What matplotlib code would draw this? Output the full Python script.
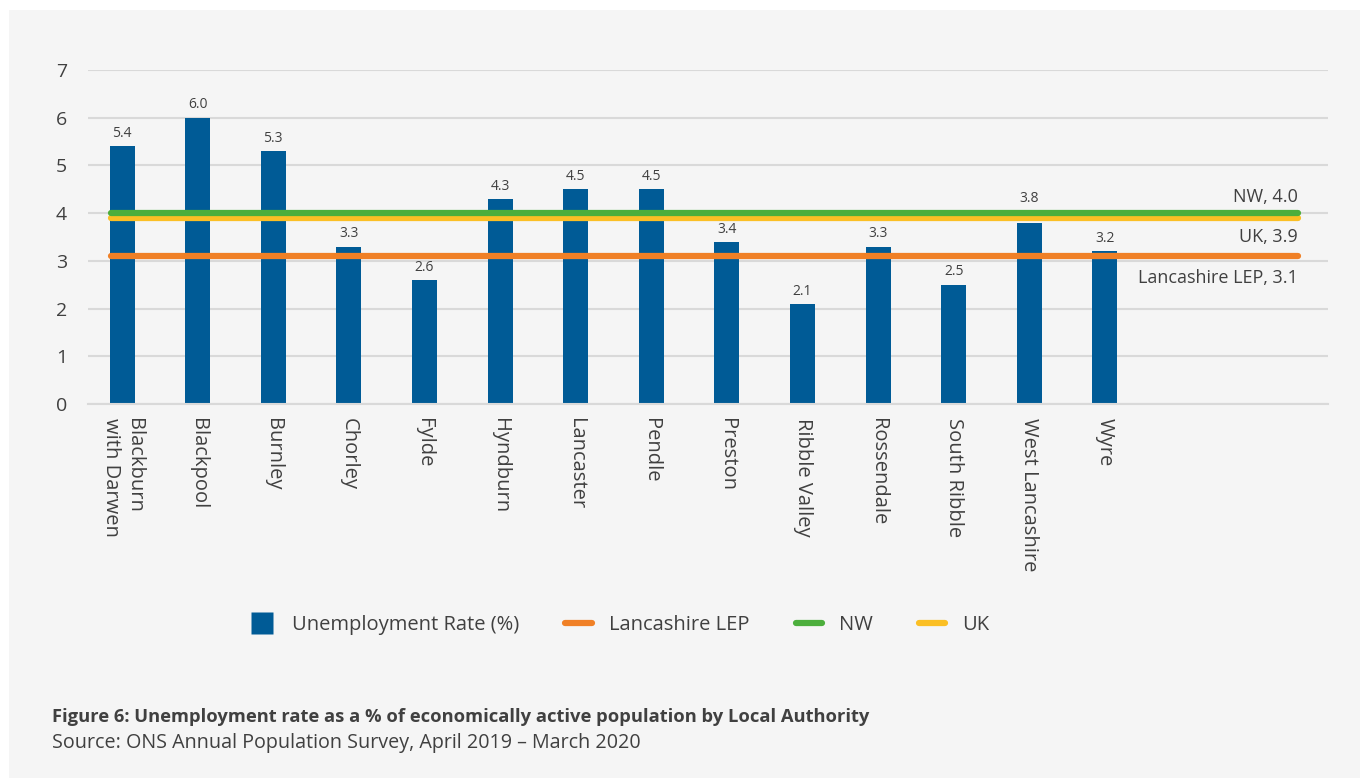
import matplotlib
matplotlib.use("Agg")
import matplotlib.pyplot as plt
from matplotlib.patches import Rectangle
from matplotlib.lines import Line2D

plt.rcParams['font.family'] = ['Open Sans', 'DejaVu Sans']

# Local authorities and unemployment rates (%)
authorities = ["Blackburn\nwith Darwen", "Blackpool", "Burnley", "Chorley", "Fylde",
               "Hyndburn", "Lancaster", "Pendle", "Preston", "Ribble Valley",
               "Rossendale", "South Ribble", "West Lancashire", "Wyre"]
rates = [5.4, 6.0, 5.3, 3.3, 2.6, 4.3, 4.5, 4.5, 3.4, 2.1, 3.3, 2.5, 3.8, 3.2]

# Benchmark averages
benchmark_names = ["Lancashire LEP", "NW", "UK"]
benchmark_values = [3.1, 4.0, 3.9]

bar_color = "#005b96"
line_colors = {"Lancashire LEP": "#f08026", "NW": "#4cae3c", "UK": "#fbbf24"}
text_color = "#404040"
panel_color = "#f5f5f5"

fig = plt.figure(figsize=(13.6, 7.78), dpi=100)
fig.patch.set_facecolor("white")
fig.add_artist(Rectangle((9 / 1360, 0), 1 - 9 / 1360, 1 - 10 / 778,
                         transform=fig.transFigure, facecolor=panel_color,
                         edgecolor="none", zorder=-10))

ax = fig.add_axes([88 / 1360, 1 - 404 / 778, (1328 - 88) / 1360, (404 - 70) / 778])
ax.patch.set_alpha(0)

x = list(range(len(authorities)))
ax.bar(x, rates, width=0.33, color=bar_color, zorder=2)

# Value labels; lift a label clear of any benchmark line just above its bar
for xi, v in zip(x, rates):
    y = v + 0.11
    close = [b for b in benchmark_values if v <= b <= v + 0.45]
    if close:
        y = max(close) + 0.15
    ax.text(xi, y, f"{v:.1f}", ha="center", va="bottom",
            fontsize=10, color=text_color, zorder=5)

# Benchmark lines, drawn so that NW sits on top
x0, x1 = -0.15, 15.55
order = ["Lancashire LEP", "UK", "NW"]
for name in order:
    val = benchmark_values[benchmark_names.index(name)]
    ax.plot([x0, x1], [val, val], color=line_colors[name], lw=4.5,
            solid_capstyle="round", zorder=3)

nw = benchmark_values[benchmark_names.index("NW")]
uk = benchmark_values[benchmark_names.index("UK")]
lep = benchmark_values[benchmark_names.index("Lancashire LEP")]
ax.text(x1, nw + 0.15, f"NW, {nw:.1f}", ha="right", va="bottom",
        fontsize=13, color=text_color)
ax.text(x1, uk - 0.22, f"UK, {uk:.1f}", ha="right", va="top",
        fontsize=13, color=text_color)
ax.text(x1, lep - 0.27, f"Lancashire LEP, {lep:.1f}", ha="right", va="top",
        fontsize=13, color=text_color)

ax.set_xlim(-0.45, 15.95)
ax.set_ylim(0, 7)
ax.set_yticks(range(0, 8))
ax.yaxis.grid(True, color="#d9d9d9", lw=1.5, zorder=0)
ax.set_axisbelow(True)
for s in ["top", "right", "left"]:
    ax.spines[s].set_visible(False)
ax.spines["bottom"].set_color("#d9d9d9")
ax.spines["bottom"].set_linewidth(1.5)
ax.tick_params(axis="y", length=0, pad=15, labelsize=14, labelcolor=text_color)
ax.tick_params(axis="x", length=0, pad=10)
ax.set_xticks(x)
ax.set_xticklabels(authorities, rotation=270, fontsize=14.5, color=text_color,
                   ha="center", va="top", multialignment="left")

handles = [Line2D([], [], marker="s", markersize=16.5, linestyle="none",
                  markerfacecolor=bar_color, markeredgecolor="none"),
           Line2D([], [], color=line_colors["Lancashire LEP"], lw=4.5, solid_capstyle="round"),
           Line2D([], [], color=line_colors["NW"], lw=4.5, solid_capstyle="round"),
           Line2D([], [], color=line_colors["UK"], lw=4.5, solid_capstyle="round")]
labels = ["Unemployment Rate (%)"] + benchmark_names
leg = fig.legend(handles, labels, loc="center", bbox_to_anchor=(619 / 1360, 1 - 625 / 778),
                 ncol=4, frameon=False, fontsize=14.5, handlelength=1.3,
                 columnspacing=2.3, handletextpad=0.85)
for t in leg.get_texts():
    t.set_color(text_color)

fig.text(52 / 1360, 1 - 717 / 778,
         "Figure 6: Unemployment rate as a % of economically active population by Local Authority",
         fontsize=13.2, fontweight="bold", color=text_color, va="center", ha="left")
fig.text(52 / 1360, 1 - 743 / 778,
         "Source: ONS Annual Population Survey, April 2019 \u2013 March 2020",
         fontsize=14.2, color=text_color, va="center", ha="left")

fig.savefig("out.png", dpi=100, facecolor=fig.get_facecolor())
